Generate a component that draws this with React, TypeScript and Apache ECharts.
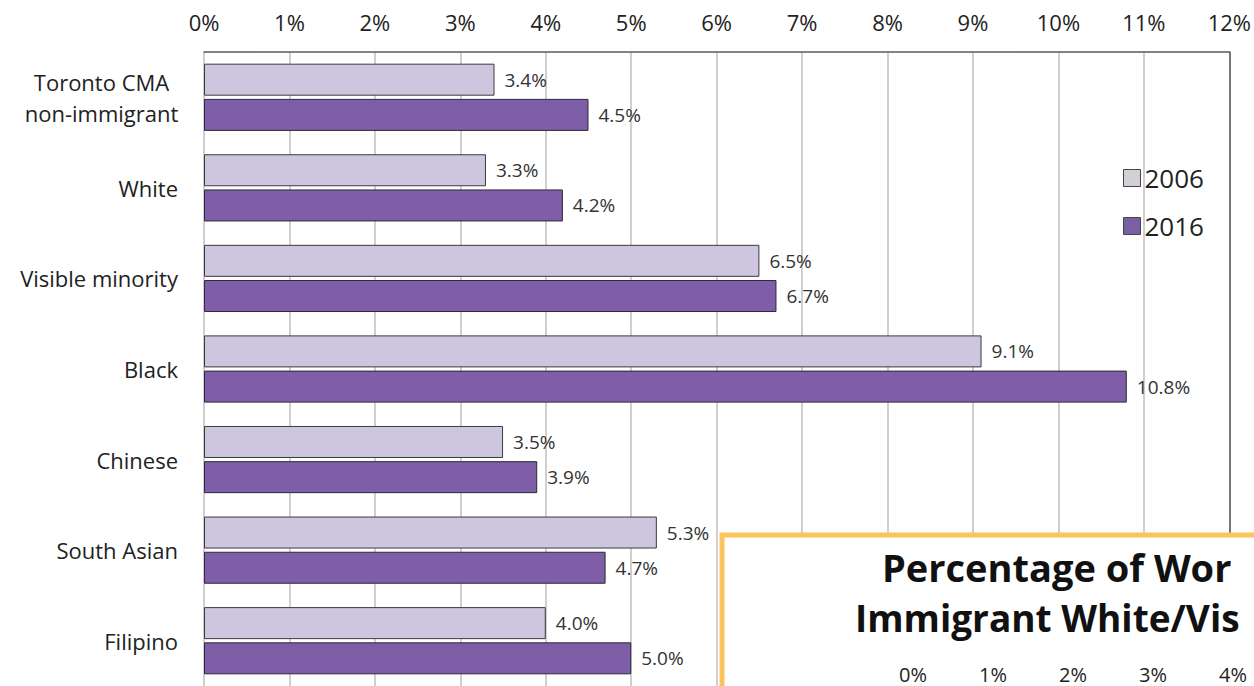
import React, { useEffect, useRef } from "react";
import * as echarts from "echarts";

const categories = [
  "Toronto CMA\nnon-immigrant",
  "White",
  "Visible minority",
  "Black",
  "Chinese",
  "South Asian",
  "Filipino",
];
const values2006 = [3.4, 3.3, 6.5, 9.1, 3.5, 5.3, 4.0];
const values2016 = [4.5, 4.2, 6.7, 10.8, 3.9, 4.7, 5.0];
const seriesNames = ["2006", "2016"];
const insetTitle1 = "Percentage of Wor";
const insetTitle2 = "Immigrant White/Vis";
const insetTicks = ["0%", "1%", "2%", "3%", "4%"];

const FONT = "'Open Sans', Lato, sans-serif";

export default function App() {
  const ref = useRef<HTMLDivElement>(null);
  useEffect(() => {
    if (!ref.current) return;
    const chart = echarts.init(ref.current, undefined, { renderer: "svg" });
    const labelCfg = {
      show: true,
      position: "right" as const,
      distance: 10,
      fontSize: 19,
      color: "#333",
      fontFamily: FONT,
      formatter: (p: any) => Number(p.value).toFixed(1) + "%",
    };
    const insetTickTexts = insetTicks.map((t, i) => ({
      type: "text",
      z: 102,
      style: {
        text: t,
        x: 913 + i * 80,
        y: 674,
        align: "center",
        verticalAlign: "middle",
        fontSize: 20,
        fontFamily: FONT,
        fill: "#222",
      },
    }));
    chart.setOption({
      animation: false,
      backgroundColor: "#fff",
      grid: { left: 204, top: 52, right: 22, bottom: 0, containLabel: false },
      xAxis: {
        type: "value",
        position: "top",
        min: 0,
        max: 12,
        interval: 1,
        axisLabel: {
          formatter: (v: number) => v + "%",
          fontSize: 22,
          color: "#222",
          fontFamily: FONT,
          margin: 19,
        },
        axisLine: { show: true, lineStyle: { color: "#5a5a5a", width: 1.5 } },
        axisTick: { show: false },
        splitLine: { show: true, lineStyle: { color: "#cfcfcf", width: 2 } },
      },
      yAxis: [
        {
          type: "category",
          data: categories,
          inverse: true,
          axisLabel: {
            fontSize: 22,
            color: "#222",
            fontFamily: FONT,
            margin: 26,
            lineHeight: 31,
            align: "right",
            formatter: (v: string) =>
              v.indexOf("\n") >= 0
                ? v
                    .split("\n")
                    .map((s) => "{c|" + s + "}")
                    .join("\n")
                : v,
            rich: {
              c: {
                width: 153,
                align: "center",
                fontSize: 22,
                lineHeight: 31,
                color: "#222",
                fontFamily: FONT,
              },
            },
          },
          axisLine: { show: false },
          axisTick: { show: false },
        },
        {
          type: "category",
          data: categories,
          inverse: true,
          position: "right",
          axisLabel: { show: false },
          axisLine: { show: true, lineStyle: { color: "#5a5a5a", width: 1.5 } },
          axisTick: { show: false },
        },
      ],
      legend: {
        orient: "vertical",
        left: 1118,
        top: 160,
        itemWidth: 17,
        itemHeight: 17,
        itemGap: 22,
        icon: "rect",
        textStyle: { fontSize: 26, color: "#222", fontFamily: FONT, padding: [0, 0, 0, -1] },
        data: [
          { name: seriesNames[0], itemStyle: { color: "#d2d0d4", borderColor: "#444", borderWidth: 1 } },
          { name: seriesNames[1], itemStyle: { color: "#7a5fa5", borderColor: "#444", borderWidth: 1 } },
        ],
      },
      series: [
        {
          name: seriesNames[0],
          type: "bar",
          data: values2006,
          barWidth: 32,
          barGap: "10%",
          itemStyle: { color: "#cec5df", borderColor: "#3a3a3a", borderWidth: 1 },
          label: labelCfg,
        },
        {
          name: seriesNames[1],
          type: "bar",
          data: values2016,
          barWidth: 32,
          barGap: "10%",
          itemStyle: { color: "#7d5ea7", borderColor: "#2e2838", borderWidth: 1 },
          label: labelCfg,
        },
      ],
      graphic: [
        {
          type: "rect",
          z: 100,
          shape: { x: 722, y: 535, width: 600, height: 200 },
          style: { fill: "#fff", stroke: "#fcc45c", lineWidth: 5 },
        },
        {
          type: "text",
          z: 102,
          style: {
            text: insetTitle1,
            x: 882,
            y: 567,
            verticalAlign: "middle",
            fontSize: 38,
            fontWeight: "bold",
            fontFamily: FONT,
            fill: "#111",
          },
        },
        {
          type: "text",
          z: 102,
          style: {
            text: insetTitle2,
            x: 855,
            y: 617,
            verticalAlign: "middle",
            fontSize: 37,
            fontWeight: "bold",
            fontFamily: FONT,
            fill: "#111",
          },
        },
        ...insetTickTexts,
      ],
    });
    return () => chart.dispose();
  }, []);
  return (
    <div
      ref={ref}
      style={{ position: "fixed", left: 0, top: 0, width: 1254, height: 686 }}
    />
  );
}
